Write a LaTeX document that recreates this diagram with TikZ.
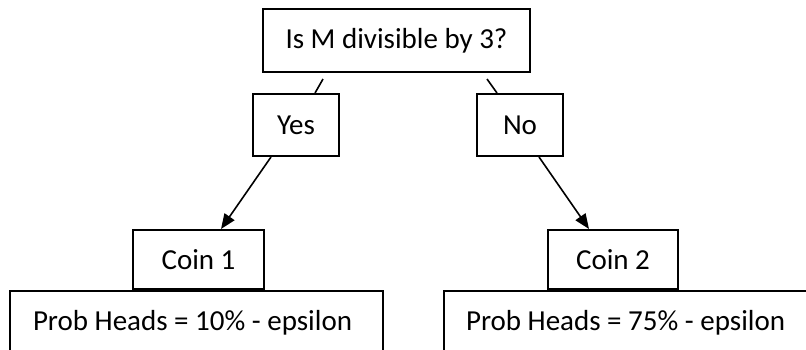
\documentclass[tikz,border=0pt]{standalone}
\usepackage{fontspec}
\setmainfont{Carlito}
\usepackage{tikz}
\usetikzlibrary{arrows.meta,calc}

\begin{document}
\begin{tikzpicture}[x=0.5pt, y=-0.5pt,
  box/.style={draw, line width=1pt, inner sep=0pt, font=\fontsize{14.5}{17}\selectfont},
  probbox/.style={box, anchor=north west, inner xsep=11.5pt, inner ysep=0pt, text height=19.5pt, text depth=40pt},
  link/.style={line width=0.8pt},
  pick/.style={link, -{Triangle[length=7.5pt,width=6pt]}}]
\useasboundingbox (0,0) rectangle (806,349);
\clip (0,0) rectangle (806,349);
% question
\node[box, minimum width=133.5pt, minimum height=31.5pt] (q) at (396.5,40.5) {Is M divisible by 3?};
% answers
\node[box, minimum width=43pt, minimum height=31pt] (yes) at (296,125) {Yes};
\node[box, minimum width=43pt, minimum height=31pt] (no) at (520,125) {No};
% coins
\node[box, minimum width=65.5pt, minimum height=29.5pt] (coin1) at (198.5,259.5) {Coin 1};
\node[box, minimum width=65pt, minimum height=29.5pt] (coin2) at (613,259.5) {Coin 2};
\node[probbox] (prob1) at (9,290) {\makebox[163.5pt][l]{Prob Heads = 10\% - epsilon}};
\node[probbox, inner xsep=11pt] (prob2) at (443,290) {\makebox[178pt][l]{Prob Heads = 75\% - epsilon}};
% links
\coordinate (yesend) at (323,79);
\coordinate (noend) at (487,79);
\draw[link] (yesend) -- ($(yes.north)+(19,0)$);
\draw[link] (noend) -- ($(no.north)+(-23,0)$);
\draw[pick] ($(yes.south)+(-25,0)$) -- ($(coin1.north)+(22.5,0)$);
\draw[pick] ($(no.south)+(19,0)$) -- ($(coin2.north)+(-24,0)$);
\end{tikzpicture}
\end{document}
